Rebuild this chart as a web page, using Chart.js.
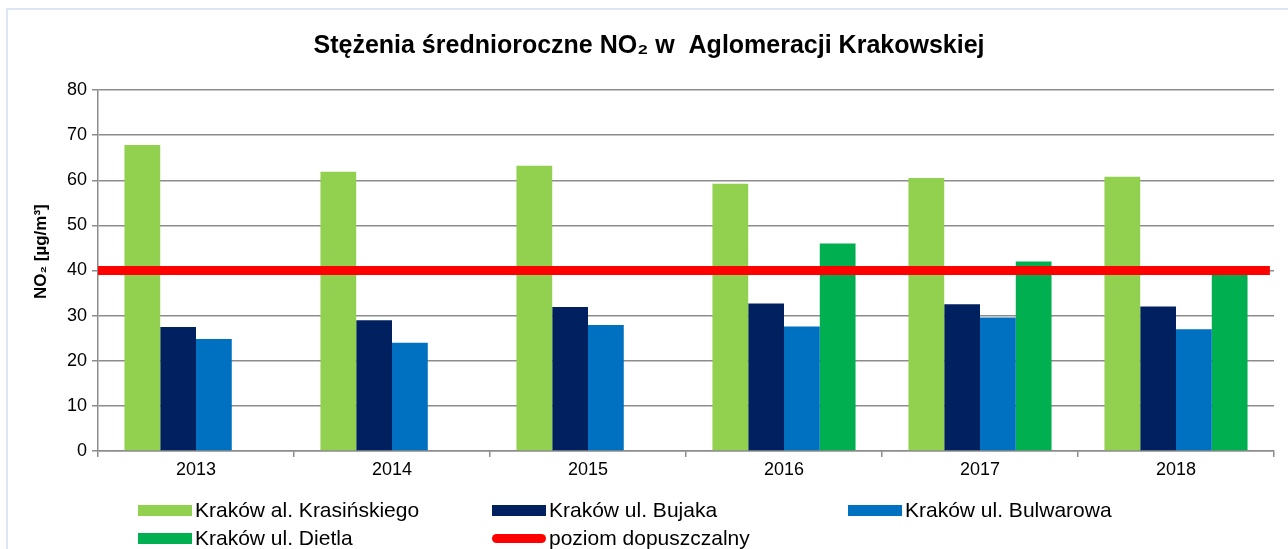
<!DOCTYPE html>
<html>
<head>
<meta charset="utf-8">
<script src="https://cdn.jsdelivr.net/npm/chart.js@4.4.1/dist/chart.umd.min.js"></script>
<style>
  html, body { margin: 0; padding: 0; background: #fff; }
  #wrap { position: relative; width: 1288px; height: 549px; overflow: hidden; font-family: 'Liberation Sans', Arial, sans-serif; }
  #frame { position: absolute; left: 6px; top: 8px; width: 1400px; height: 700px; border-left: 2px solid #dde7f3; border-top: 2px solid #dde7f3; }
  canvas { position: absolute; left: 0; top: 0; }
  #legend { position: absolute; left: 0; top: 0; width: 1288px; height: 549px; pointer-events: none; }
  .li { position: absolute; display: flex; align-items: center; font-size: 21px; color: #000; white-space: nowrap; }
  .sw { width: 54px; height: 11px; margin-right: 3px; }
  .ln { width: 54px; height: 9px; border-radius: 5px; margin-right: 3px; }
</style>
</head>
<body>
<div id="wrap">
  <div id="frame"></div>
  <canvas id="c" width="1288" height="549"></canvas>
  <div id="legend"></div>
</div>
<script>
const categories = ['2013', '2014', '2015', '2016', '2017', '2018'];
const krasinskiego = [67.8, 61.9, 63.2, 59.2, 60.5, 60.8];
const bujaka = [27.5, 29.0, 31.9, 32.7, 32.5, 32.0];
const bulwarowa = [24.8, 24.0, 27.9, 27.6, 29.6, 27.0];
const dietla = [null, null, null, 46.0, 42.0, 39.3];
const limitValue = 40;
const seriesNames = ['Kraków al. Krasińskiego', 'Kraków ul. Bujaka', 'Kraków ul. Bulwarowa', 'Kraków ul. Dietla', 'poziom dopuszczalny'];
const yTicks = [0, 10, 20, 30, 40, 50, 60, 70, 80];

const FONT = "'Liberation Sans', Arial, sans-serif";
const colors = ['#92d050', '#002060', '#0070c0', '#00b050', '#ff0000'];

const barCommon = { indexAxis: 'x', categoryPercentage: 0.73, barPercentage: 1.0, order: 1, borderWidth: 0 };

const chart = new Chart(document.getElementById('c'), {
  data: {
    labels: categories,
    datasets: [
      Object.assign({ type: 'bar', label: seriesNames[0], data: krasinskiego, backgroundColor: colors[0] }, barCommon),
      Object.assign({ type: 'bar', label: seriesNames[1], data: bujaka, backgroundColor: colors[1] }, barCommon),
      Object.assign({ type: 'bar', label: seriesNames[2], data: bulwarowa, backgroundColor: colors[2] }, barCommon),
      Object.assign({ type: 'bar', label: seriesNames[3], data: dietla, backgroundColor: colors[3] }, barCommon),
      { type: 'line', indexAxis: 'x', label: seriesNames[4], xAxisID: 'xl',
        data: [{ x: 0, y: limitValue }, { x: 1, y: limitValue }],
        borderColor: colors[4], backgroundColor: colors[4], borderWidth: 9,
        pointRadius: 0, borderCapStyle: 'butt', order: 0 }
    ]
  },
  options: {
    indexAxis: 'y',
    responsive: false,
    animation: false,
    devicePixelRatio: 1,
    layout: { padding: { left: 24, right: 14, top: 0, bottom: 58 } },
    plugins: {
      legend: { display: false },
      tooltip: { enabled: false },
      title: {
        display: true,
        text: 'Stężenia średnioroczne NO₂ w  Aglomeracji Krakowskiej',
        color: '#000',
        font: { family: FONT, size: 25, weight: 'bold', lineHeight: 1.2 },
        padding: { top: 31, bottom: 29 }
      }
    },
    scales: {
      x: {
        type: 'category',
        offset: true,
        grid: { display: true, offset: true, drawOnChartArea: false, drawTicks: true, tickLength: 6, color: '#8c8c8c', lineWidth: 1.5 },
        border: { display: true, color: '#8c8c8c', width: 1.5 },
        ticks: { color: '#000', font: { family: FONT, size: 18 }, padding: 2, maxRotation: 0 },
        afterFit: (s) => { s.height = 40; }
      },
      xl: {
        type: 'linear', display: false, min: 0, max: 1.0035, offset: false
      },
      y: {
        type: 'linear',
        min: 0, max: 80,
        afterBuildTicks: (s) => { s.ticks = yTicks.map(v => ({ value: v })); },
        grid: { color: '#8c8c8c', lineWidth: 1.5, tickLength: 6, drawTicks: true },
        border: { display: true, color: '#8c8c8c', width: 1.5 },
        ticks: { color: '#000', font: { family: FONT, size: 18 }, padding: 5 },
        title: {
          display: true, text: '        NO₂ [µg/m³]', color: '#000',
          font: { family: FONT, size: 17, weight: 'bold', lineHeight: 1.2 },
          padding: { top: 7, bottom: 0 }
        },
        afterFit: (s) => { s.width = 74; }
      }
    }
  }
});

// HTML legend built from the chart's datasets
const legend = document.getElementById('legend');
const pos = [[138, 510], [492, 510], [848, 510], [138, 538], [492, 538]];
chart.data.datasets.forEach((ds, i) => {
  const item = document.createElement('div');
  item.className = 'li';
  item.style.left = pos[i][0] + 'px';
  item.style.top = (pos[i][1] - 12) + 'px';
  item.style.height = '24px';
  const sw = document.createElement('span');
  sw.className = ds.type === 'line' ? 'ln' : 'sw';
  sw.style.background = ds.backgroundColor;
  const tx = document.createElement('span');
  tx.textContent = ds.label;
  item.appendChild(sw);
  item.appendChild(tx);
  legend.appendChild(item);
});
</script>
</body>
</html>
